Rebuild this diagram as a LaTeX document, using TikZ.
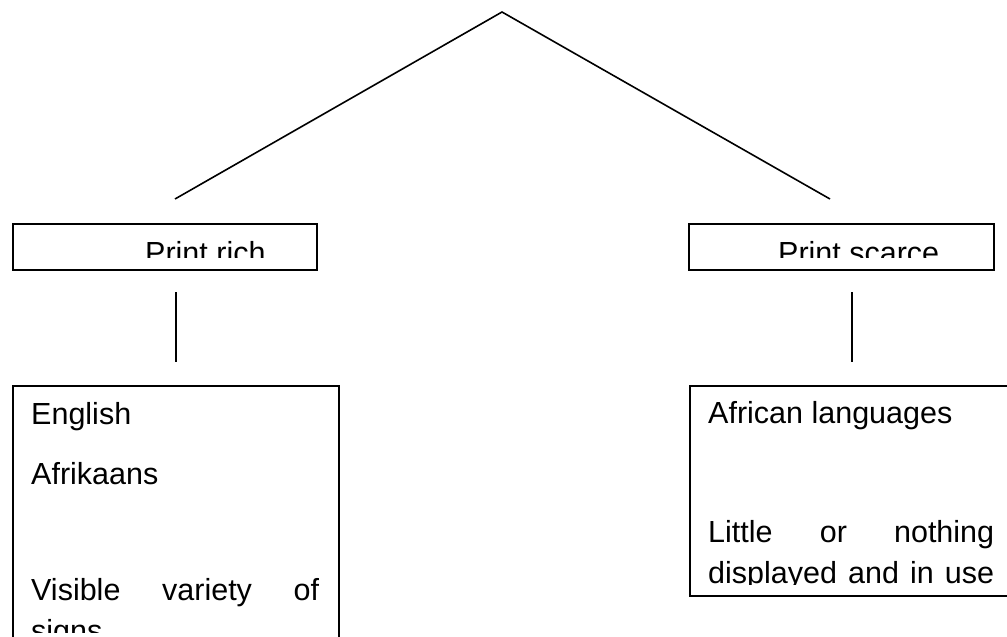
\documentclass[tikz,border=0pt]{standalone}
\usepackage{fontspec}
\setmainfont{Liberation Sans}
\begin{document}
\begin{tikzpicture}[x=1pt,y=-1pt,
  box/.style={draw,line width=1.6pt,rectangle,inner sep=0pt,anchor=north west},
  conn/.style={line width=1.6pt},
  txt/.style={anchor=base west,inner sep=0pt,font=\fontsize{30.5}{36}\selectfont}]
\useasboundingbox (0,0) rectangle (1007,637);
\clip (0,0) rectangle (1007,637);
% boxes
\node[box,minimum width=304pt,minimum height=46pt] (rich) at (12,223) {};
\node[box,minimum width=305pt,minimum height=46pt] (scarce) at (688,223) {};
\node[box,minimum width=326pt,minimum height=300pt] (richlist) at (12,385) {};
\node[box,minimum width=330pt,minimum height=210pt] (scarcelist) at (689,385) {};
% connectors
\coordinate (apex) at (502,12);
\coordinate (lend) at (175,199);
\coordinate (rend) at (830,199);
\coordinate (ltop) at (176,292);
\coordinate (lbot) at (176,362);
\coordinate (rtop) at (852,292);
\coordinate (rbot) at (852,362);
\draw[conn] (lend) -- (apex) -- (rend);
\draw[conn] (ltop) -- (lbot);
\draw[conn] (rtop) -- (rbot);
% texts
\begin{scope}
\clip (12,223) rectangle (316,257);
\node[txt] (richtxt) at (145,263) {Print rich};
\end{scope}
\begin{scope}
\clip (688,223) rectangle (993,257);
\node[txt] (scarcetxt) at (778,263) {Print scarce};
\end{scope}
\begin{scope}
\clip (12,385) rectangle (338,632);
\node[txt] (eng) at (31,424) {English};
\node[txt] (afr) at (31,484) {Afrikaans};
\node[txt] (vis) at (31,600) {\hbox to 288pt{Visible\hfill variety\hfill of}};
\node[txt] (signs) at (31,641) {signs};
\end{scope}
\begin{scope}
\clip (689,385) rectangle (1007,584);
\node[txt] (afl) at (708,423) {African languages};
\node[txt] (lit) at (708,542) {\hbox to 286pt{Little\hfill or\hfill nothing}};
\node[txt] (disp) at (708,583) {\hbox to 286pt{displayed\hfill and\hfill in\hfill use}};
\end{scope}
\end{tikzpicture}
\end{document}
